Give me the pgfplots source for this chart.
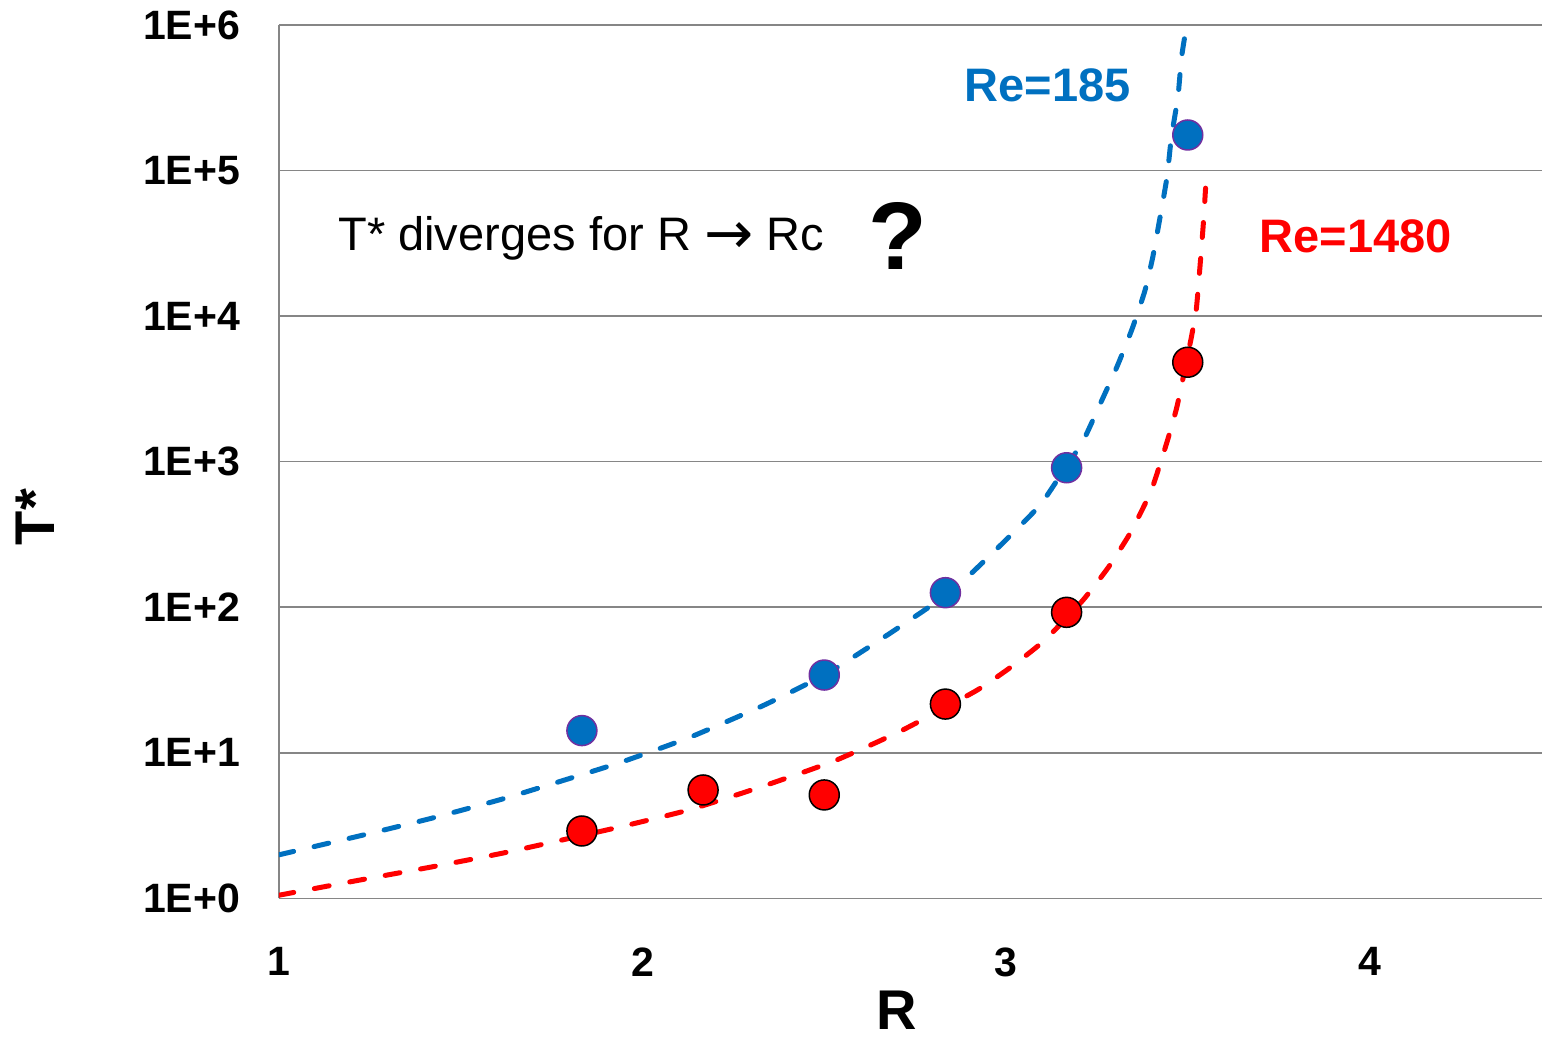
\documentclass[border=0pt]{standalone}
\usepackage{fontspec}
\setmainfont{Liberation Sans}
\newfontfamily\arrowfont{DejaVu Sans}
\usepackage{pgfplots}
\pgfplotsset{compat=1.18}

\definecolor{reblue}{HTML}{0070C0}
\definecolor{rered}{HTML}{FF0000}
\definecolor{edgepurple}{HTML}{7030A0}
\definecolor{gridgray}{HTML}{868686}

% Measured relaxation times T* versus R for two Reynolds numbers
\pgfplotstableread{
R       T
1.8333  14.2
2.5     34.2
2.8333  125.8
3.1667  908
3.5     175500
}\lowRe

\pgfplotstableread{
R       T
1.8333  2.90
2.1667  5.55
2.5     5.13
2.8333  21.6
3.1667  92.2
3.5     4820
}\highRe

% Fitted divergent trends
\pgfplotstableread{
R      T
1.000  1.99
1.226  2.70
1.420  3.55
1.627  4.91
1.930  8.43
2.128  12.7
2.323  20.6
2.425  27.4
2.520  36.5
2.680  66
2.854  131
3.000  290
3.094  504
3.154  836
3.212  1387
3.259  2490
3.305  4470
3.347  8180
3.382  14900
3.404  25600
3.424  48100
3.443  90600
3.455  170000
3.473  321000
3.483  603000
3.497  1000000
}\lowReFit

\pgfplotstableread{
R      T
1.000  1.05
1.226  1.34
1.424  1.65
1.622  2.06
1.930  3.06
2.128  4.05
2.329  5.86
2.527  8.77
2.708  14.0
2.917  26.6
3.016  39.2
3.107  59.5
3.212  112
3.281  187
3.341  321
3.399  628
3.442  1343
3.470  2370
3.503  5850
3.523  10870
3.534  22500
3.543  43700
3.549  75700
}\highReFit

\begin{document}
\begin{tikzpicture}
\useasboundingbox (-139.5pt,-70.35pt) rectangle (631.5pt,449.15pt);
\begin{axis}[
  at={(0,0)}, anchor=south west,
  scale only axis, width=631.5pt, height=436.65pt,
  ymode=log,
  xmin=1, xmax=4.4745, ymin=1, ymax=1e6,
  axis lines*=left,
  axis line style={gridgray, line width=0.75pt, -},
  ymajorgrids, grid style={gridgray, line width=0.75pt},
  major tick length=0pt, minor tick length=0pt,
  xtick={1,2,3,4}, xticklabels={1,2,3,4},
  ytick={1,10,100,1000,10000,100000,1000000},
  yticklabels={1E+0,1E+1,1E+2,1E+3,1E+4,1E+5,1E+6},
  tick label style={font=\fontsize{20.5pt}{24pt}\selectfont\bfseries},
  yticklabel style={anchor=east, inner sep=0pt, xshift=-19.25pt},
  xticklabel style={anchor=north, inner sep=0pt, yshift=-24.35pt},
  xlabel={R}, ylabel={T*},
  label style={font=\fontsize{28pt}{32pt}\selectfont\bfseries},
  xlabel style={at={(axis description cs:0.4893,-0.1277)}, anchor=center, inner sep=0pt},
  ylabel style={at={(axis description cs:-0.1932,0.4366)}, anchor=center},
]

\addplot[only marks, mark=*, mark size=7.5pt,
  mark options={fill=reblue, draw=edgepurple, line width=0.75pt}]
  table[x=R, y=T] {\lowRe};
\addplot[only marks, mark=*, mark size=7.5pt,
  mark options={fill=rered, draw=black, line width=0.75pt}]
  table[x=R, y=T] {\highRe};

\addplot[reblue, line width=2.5pt, line cap=round,
  dash pattern=on 7.5pt off 10.5pt, smooth, tension=0.3]
  table[x=R, y=T] {\lowReFit};
\addplot[rered, line width=2.5pt, line cap=round,
  dash pattern=on 7.5pt off 10.5pt, smooth, tension=0.3]
  table[x=R, y=T] {\highReFit};

\node[anchor=base west, inner sep=0pt,
  font=\fontsize{23.5pt}{26pt}\selectfont]
  at (axis cs:1.1623,28450)
  {T* diverges for R \raisebox{-1.6pt}{\scalebox{1.25}{\arrowfont →}} Rc};
\node[anchor=base west, inner sep=0pt,
  font=\fontsize{48pt}{50pt}\selectfont\bfseries]
  at (axis cs:2.620,20740) {?};
\node[anchor=base west, inner sep=0pt, text=reblue,
  font=\fontsize{23.5pt}{27pt}\selectfont\bfseries]
  at (axis cs:2.885,297000) {Re=185};
\node[anchor=base west, inner sep=0pt, text=rered,
  font=\fontsize{23.5pt}{27pt}\selectfont\bfseries]
  at (axis cs:3.697,27150) {Re=1480};
\end{axis}
\end{tikzpicture}
\end{document}
